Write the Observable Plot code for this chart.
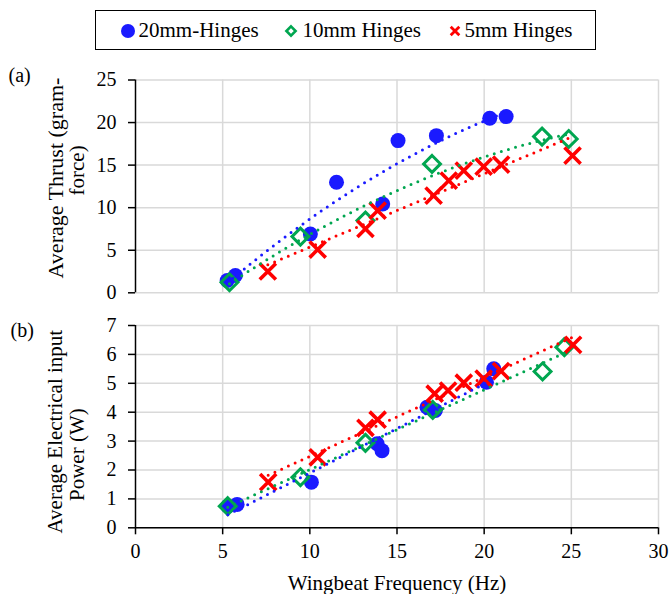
<!DOCTYPE html>
<html>
<head>
<meta charset="utf-8">
<script src="https://cdn.jsdelivr.net/npm/d3@7"></script>
<script src="https://cdn.jsdelivr.net/npm/@observablehq/plot@0.6"></script>
<style>
  html, body { margin: 0; padding: 0; background: #fff; }
  #chart { position: relative; width: 670px; height: 594px; font-family: "Liberation Serif", "Times New Roman", serif; color: #000; }
  #chart svg, #chart svg g, #chart svg text { font-family: "Liberation Serif", "Times New Roman", serif !important; }
  #legend { position: absolute; left: 95px; top: 10px; width: 499px; height: 38px; border: 1.5px solid #000; box-sizing: content-box; }
  .sym { position: absolute; display: block; }
  .lab { position: absolute; top: 0; height: 38px; line-height: 38px; font-size: 21px; white-space: nowrap; }
  #panelA { position: absolute; left: 0; top: 60px; }
  #panelB { position: absolute; left: 0; top: 305px; }
</style>
</head>
<body>
<div id="chart">
  <div id="legend"></div>
  <div id="panelA"></div>
  <div id="panelB"></div>
</div>
<script>
// Series names and colours
const seriesNames = ["20mm-Hinges", "10mm Hinges", "5mm Hinges"];
const seriesColors = ["#1a1aff", "#00a650", "#ff0000"];

// Axis ticks
const freqTicks = [0, 5, 10, 15, 20, 25, 30];
const thrustTicks = [0, 5, 10, 15, 20, 25];
const powerTicks = [0, 1, 2, 3, 4, 5, 6, 7];

// (a) Average thrust (gram-force) vs wingbeat frequency (Hz)
const thrust20Freq = [5.26, 5.73, 10.03, 11.53, 14.18, 15.06, 17.26, 20.32, 21.26];
const thrust20 =     [1.44, 2.03, 6.90, 12.98, 10.44, 17.88, 18.46, 20.50, 20.70];
const thrust10Freq = [5.39, 9.46, 13.19, 17.01, 23.32, 24.85];
const thrust10 =     [1.24, 6.60, 8.49, 15.14, 18.35, 18.07];
const thrust5Freq =  [7.59, 10.45, 13.19, 13.89, 17.10, 17.97, 18.83, 19.97, 20.97, 25.07];
const thrust5 =      [2.50, 5.08, 7.51, 9.66, 11.42, 13.18, 14.35, 14.82, 15.06, 16.11];

// (b) Average electrical input power (W) vs wingbeat frequency (Hz)
const power20Freq = [5.30, 5.83, 10.09, 13.86, 14.14, 16.72, 17.20, 20.13, 20.55];
const power20 =     [0.75, 0.81, 1.58, 2.91, 2.67, 4.17, 4.06, 5.04, 5.50];
const power10Freq = [5.29, 9.46, 13.19, 17.05, 23.35, 24.60];
const power10 =     [0.75, 1.75, 2.94, 4.08, 5.41, 6.25];
const power5Freq =  [7.61, 10.45, 13.19, 13.89, 17.16, 17.93, 18.83, 19.97, 20.97, 25.10];
const power5 =      [1.58, 2.44, 3.46, 3.74, 4.64, 4.75, 5.02, 5.16, 5.42, 6.33];

const symbols = ["circle", "diamond2", "times"];

function rows(freqs, vals, s) {
  return freqs.map((f, i) => ({ f, v: vals[i], s }));
}
const thrustData = [
  rows(thrust20Freq, thrust20, 0),
  rows(thrust10Freq, thrust10, 1),
  rows(thrust5Freq, thrust5, 2)
];
const powerData = [
  rows(power20Freq, power20, 0),
  rows(power10Freq, power10, 1),
  rows(power5Freq, power5, 2)
];

// Second-order least-squares trendline, evaluated across the series' range
function polyTrend(data) {
  const S = [0, 0, 0, 0, 0], T = [0, 0, 0];
  for (const { f, v } of data) {
    for (let k = 0; k < 5; k++) S[k] += f ** k;
    for (let k = 0; k < 3; k++) T[k] += v * f ** k;
  }
  const A = [[S[0], S[1], S[2], T[0]], [S[1], S[2], S[3], T[1]], [S[2], S[3], S[4], T[2]]];
  for (let i = 0; i < 3; i++) {
    for (let j = i + 1; j < 3; j++) {
      const m = A[j][i] / A[i][i];
      for (let k = i; k < 4; k++) A[j][k] -= m * A[i][k];
    }
  }
  const c = [0, 0, 0];
  for (let i = 2; i >= 0; i--) {
    let s = A[i][3];
    for (let k = i + 1; k < 3; k++) s -= A[i][k] * c[k];
    c[i] = s / A[i][i];
  }
  const [x0, x1] = d3.extent(data, d => d.f);
  return d3.range(61).map(i => {
    const f = x0 + (x1 - x0) * i / 60;
    return { f, v: c[0] + c[1] * f + c[2] * f * f, s: data[0].s };
  });
}

const gridStyle = { stroke: "#d9d9d9", strokeOpacity: 1, strokeWidth: 1.5 };
const dotted = { strokeWidth: 3, strokeDasharray: "0,7.4", strokeLinecap: "round" };
const serif = "Liberation Serif, Times New Roman, serif";

function seriesMarks(data) {
  return data.map(d => Plot.dot(d, {
    x: "f", y: "v",
    symbol: () => symbols[d[0].s],
    r: d[0].s === 0 ? 7.5 : d[0].s === 1 ? 7.6 : 7.4,
    fill: d[0].s === 0 ? seriesColors[0] : "none",
    stroke: d[0].s === 0 ? "none" : seriesColors[d[0].s],
    strokeWidth: d[0].s === 1 ? 3 : 3.6
  }));
}

// Curved fits for the 20 mm and 10 mm hinges, straight fit for the 5 mm hinges
function thrustTrend(d) {
  const style = { x: "f", y: "v", stroke: seriesColors[d[0].s], ...dotted };
  return d[0].s === 2 ? Plot.linearRegressionY(d, { ...style, ci: 0 }) : Plot.line(polyTrend(d), style);
}

const baseStyle = { fontFamily: serif, fontSize: "20px", background: "transparent", overflow: "visible", color: "#000" };

// Panel (a)
const plotA = Plot.plot({
  width: 670, height: 245,
  marginLeft: 135, marginRight: 12, marginTop: 19.5, marginBottom: 12.7,
  style: baseStyle,
  x: { domain: [0, 30], axis: null },
  y: { domain: [0, 25] },
  marks: [
    Plot.gridX(freqTicks.slice(1), gridStyle),
    Plot.gridY(thrustTicks, gridStyle),
    Plot.ruleX([0], { stroke: "#000", strokeWidth: 1.5 }),
    Plot.axisY(thrustTicks, { tickSize: 7, tickPadding: 12, strokeWidth: 1.5, fontSize: 20, fontFamily: serif, label: null }),
    ...seriesMarks(thrustData),
    ...thrustData.map(thrustTrend),
    Plot.text(["Average Thrust (gram-"], { frameAnchor: "left", rotate: -90, dx: -80, dy: -8.4, fontSize: 22, fontFamily: serif, textAnchor: "middle", lineAnchor: "middle" }),
    Plot.text(["force)"], { frameAnchor: "left", rotate: -90, dx: -58, dy: -16, fontSize: 21, fontFamily: serif, textAnchor: "middle", lineAnchor: "middle" }),
    Plot.text(["(a)"], { frameAnchor: "top-left", dx: -127, dy: -4.5, fontSize: 20, fontFamily: serif, textAnchor: "start", lineAnchor: "middle" })
  ]
});
document.getElementById("panelA").append(plotA);

// Panel (b)
const plotB = Plot.plot({
  width: 670, height: 289,
  marginLeft: 135, marginRight: 12, marginTop: 20, marginBottom: 66.7,
  style: baseStyle,
  x: { domain: [0, 30] },
  y: { domain: [0, 7] },
  marks: [
    Plot.gridX(freqTicks.slice(1), gridStyle),
    Plot.gridY(powerTicks, gridStyle),
    Plot.ruleX([0], { stroke: "#000", strokeWidth: 1.5 }),
    Plot.ruleY([0], { stroke: "#000", strokeWidth: 1.5 }),
    Plot.axisY(powerTicks, { tickSize: 7, tickPadding: 12, strokeWidth: 1.5, fontSize: 20, fontFamily: serif, label: null }),
    Plot.axisX(freqTicks, { tickSize: 7, tickPadding: 9, strokeWidth: 1.5, fontSize: 20, fontFamily: serif, label: null }),
    ...seriesMarks(powerData),
    ...powerData.map(d => Plot.linearRegressionY(d, { x: "f", y: "v", stroke: seriesColors[d[0].s], ci: 0, ...dotted })),
    Plot.text(["Average Electrical input"], { frameAnchor: "left", rotate: -90, dx: -80, dy: 5, fontSize: 21, fontFamily: serif, textAnchor: "middle", lineAnchor: "middle" }),
    Plot.text(["Power (W)"], { frameAnchor: "left", rotate: -90, dx: -58, dy: 28, fontSize: 21, fontFamily: serif, textAnchor: "middle", lineAnchor: "middle" }),
    Plot.text(["(b)"], { frameAnchor: "top-left", dx: -125, dy: 5, fontSize: 20, fontFamily: serif, textAnchor: "start", lineAnchor: "middle" }),
    Plot.text(["Wingbeat Frequency (Hz)"], { frameAnchor: "bottom", dy: 55.7, fontSize: 21, fontFamily: serif, textAnchor: "middle", lineAnchor: "middle" })
  ]
});
document.getElementById("panelB").append(plotB);

// Legend: symbol centre and label start, measured from the box's inner left edge
const legendPos = [[31.5, 42.5], [195, 206.5], [358.5, 368.5]];
const legend = document.getElementById("legend");
const ns = "http://www.w3.org/2000/svg";
seriesNames.forEach((name, i) => {
  const svg = document.createElementNS(ns, "svg");
  svg.setAttribute("class", "sym");
  svg.setAttribute("width", 16); svg.setAttribute("height", 16);
  svg.setAttribute("viewBox", "-8 -8 16 16");
  svg.style.left = (legendPos[i][0] - 8) + "px";
  svg.style.top = (19.5 - 8) + "px";
  let shape;
  if (i === 0) {
    shape = document.createElementNS(ns, "circle");
    shape.setAttribute("r", 7); shape.setAttribute("fill", seriesColors[0]);
  } else if (i === 1) {
    shape = document.createElementNS(ns, "path");
    shape.setAttribute("d", "M0,-4.6L4.6,0L0,4.6L-4.6,0Z");
    shape.setAttribute("fill", "none"); shape.setAttribute("stroke", seriesColors[1]); shape.setAttribute("stroke-width", 2.6);
  } else {
    shape = document.createElementNS(ns, "path");
    shape.setAttribute("d", "M-4.3,-4.3L4.3,4.3M-4.3,4.3L4.3,-4.3");
    shape.setAttribute("stroke", seriesColors[2]); shape.setAttribute("stroke-width", 2.8);
  }
  svg.append(shape);
  legend.append(svg);
  const label = document.createElement("div");
  label.className = "lab";
  label.style.left = legendPos[i][1] + "px";
  label.textContent = name;
  legend.append(label);
});
</script>
</body>
</html>
